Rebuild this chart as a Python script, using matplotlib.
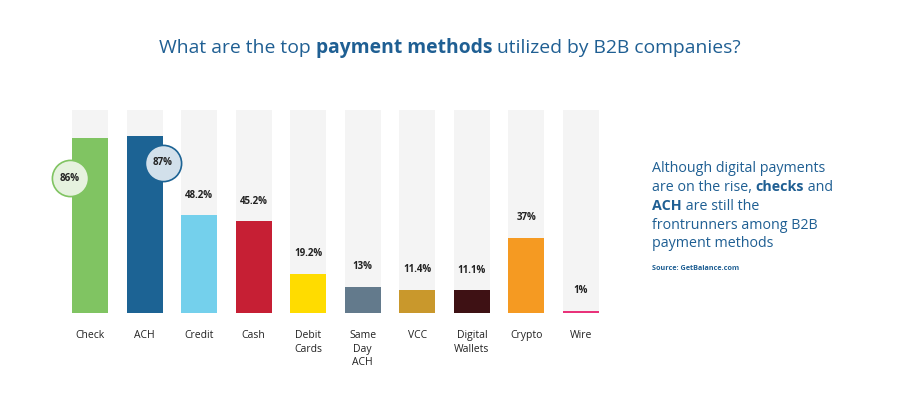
import matplotlib
matplotlib.use('Agg')
import matplotlib.pyplot as plt
import numpy as np

plt.rcParams['font.family'] = ['Open Sans', 'DejaVu Sans']

categories = ['Check', 'ACH', 'Credit', 'Cash', 'Debit\nCards', 'Same\nDay\nACH',
              'VCC', 'Digital\nWallets', 'Crypto', 'Wire']
values = [86, 87, 48.2, 45.2, 19.2, 13, 11.4, 11.1, 37, 1]
value_labels = ['86%', '87%', '48.2%', '45.2%', '19.2%', '13%', '11.4%', '11.1%', '37%', '1%']
colors = ['#80c462', '#1c6394', '#74d0ec', '#c61f34', '#ffdc00', '#637a8c',
          '#c9982c', '#3e1114', '#f59a22', '#e9327a']

BLUE = '#1f5f93'
TXT = '#222222'

fig = plt.figure(figsize=(9, 3.93), dpi=100)
ax = fig.add_axes([0.0697, 0.2036, 0.6062, 0.5165])
renderer = fig.canvas.get_renderer()

X = np.arange(len(categories))
ax.bar(X, [100] * len(X), width=0.66, color='#f4f4f4', zorder=1)
ax.bar(X, values, width=0.66, color=colors, zorder=2)
ax.set_xlim(-0.5, 9.5)
ax.set_ylim(0, 100)
ax.axis('off')

# value labels above bars (first two are in circles)
for i, (v, lab) in enumerate(zip(values, value_labels)):
    if i < 2:
        continue
    ax.annotate(lab, xy=(i, v), xytext=(0, 14.5), textcoords='offset points',
                ha='center', va='center', fontsize=7, fontweight='bold', color=TXT)

# circled labels for Check and ACH
circles = [(-0.37, 66.5, '#e6f2df', '#80c462'), (1.33, 73.9, '#d2e0eb', '#1c6394')]
for i, (cx, cy, fc, ec) in enumerate(circles):
    ax.scatter([cx], [cy], s=680, facecolor=fc, edgecolor=ec, linewidth=1.2,
               zorder=5, clip_on=False)
    ax.text(cx, cy, value_labels[i], ha='center', va='center', fontsize=7,
            fontweight='bold', color=TXT, zorder=6)

# category labels
for i, c in enumerate(categories):
    ax.annotate(c, xy=(i, 0), xytext=(0, -12.5), textcoords='offset points',
                ha='center', va='top', fontsize=7.5, color=TXT, linespacing=1.3)


def line(x, y, parts, size, color, center=False):
    # draw mixed-weight text pieces one after another on the same baseline
    texts = []
    widths = []
    for s, w in parts:
        t = fig.text(0, y, s, fontsize=size, fontweight=w, color=color,
                     ha='left', va='baseline')
        wpx = t.get_window_extent(renderer).width
        texts.append(t)
        widths.append(wpx / fig.bbox.width)
    if center:
        x = x - sum(widths) / 2
    for t, w in zip(texts, widths):
        t.set_x(x)
        x += w


# title
line(0.5, 1 - 53 / 393,
     [('What are the top ', 'normal'), ('payment methods', 'bold'),
      (' utilized by B2B companies?', 'normal')], 13.9, BLUE, center=True)

# side note
tx = 652 / 900
fs = 10.3
line(tx, 1 - 172 / 393, [('Although digital payments', 'normal')], fs, BLUE)
line(tx, 1 - 191 / 393, [('are on the rise, ', 'normal'), ('checks', 'bold'), (' and', 'normal')], fs, BLUE)
line(tx, 1 - 210 / 393, [('ACH', 'bold'), (' are still the', 'normal')], fs, BLUE)
line(tx, 1 - 229 / 393, [('frontrunners among B2B', 'normal')], fs, BLUE)
line(tx, 1 - 247 / 393, [('payment methods', 'normal')], fs, BLUE)
fig.text(tx, 1 - 270 / 393, 'Source: GetBalance.com', fontsize=5.2, fontweight='bold',
         color=BLUE, ha='left', va='baseline')

fig.savefig('out.png', dpi=100, facecolor='white')
